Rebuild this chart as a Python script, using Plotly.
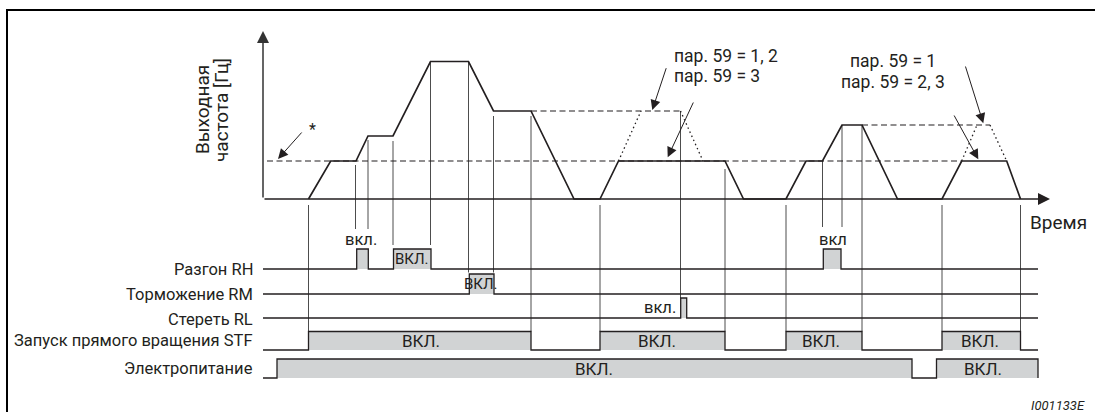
import plotly.graph_objects as go

# ---------------- data (time units from axis origin, frequency units) -------------
curve_t = [45.5, 67.7, 93, 105, 130, 167.5, 205.5, 230.5, 268, 311, 337, 355.5, 462, 480.5,
           523, 543, 559.5, 579, 599, 634.5, 679, 698.7, 743.7, 757.5]
curve_f = [0, 38, 38, 63, 63, 137.5, 137.5, 88, 88, 0, 0, 38, 38, 0,
           0, 38, 38, 74, 74, 0, 0, 38, 38, 0]

# dashed set-point levels: start, end, level
dash_start = [4, 268, 599]
dash_end = [698.7, 417.5, 727]
dash_level = [38, 88, 74]

# dotted alternative ramps (pr. 59 variants)
dot_t = [[355.5, 378], [417.5, 440], [698.7, 714], [727, 743.7]]
dot_f = [[38, 88], [88, 38], [38, 74], [74, 38]]

# event markers (vertical lines)
marker_t = [45.5, 92.5, 105, 130, 167.5, 205.5, 230.5, 268, 337, 417.5, 462, 523, 559.5, 579, 599, 679, 757.5]
marker_top = [-6, 34, 59, 58, 136, 137.5, 83, 83, -6, 88, 30, -6, 38, 74, 74, -6, -6]
marker_end = [-132.5, -30, -30, -46, -46, -73.5, -73.5, -132.5, -132.5, -99, -132.5, -132.5,
              -28, -28, -132.5, -132.5, -132.5]

# signal rows
row_names = ["Разгон RH", "Торможение RM", "Стереть RL", "Запуск прямого вращения STF", "Электропитание"]
row_pulses = [
    [(93.7, 105.3), (130.5, 168), (560.3, 578)],
    [(206.3, 231)],
    [(417.7, 423.7)],
    [(45.5, 268), (337, 462), (523, 599), (679, 757.5)],
    [(14, 649), (673.5, 775)],
]
row_low = [-70, -95, -119, -151, -179]
row_high = [-50, -75, -99, -132.5, -160]
row_label_f = [-70, -95, -120, -141.5, -169.5]
row_end = 775

pulse_text = ["вкл.", "ВКЛ.", "ВКЛ.", "вкл.", "вкл", "ВКЛ.", "ВКЛ.", "ВКЛ.", "ВКЛ.", "ВКЛ.", "ВКЛ."]
pulse_text_t = [98, 149, 218, 397, 570, 157.5, 394, 558, 717, 331, 720]
pulse_text_f = [-40, -60, -85, -108, -40, -142, -142, -142, -142, -170, -170]
pulse_text_size = [16.5, 15, 15, 16.5, 16.5, 17, 17, 17, 17, 17, 17]

param_text = ["пар. 59 = 1, 2", "пар. 59 = 3", "пар. 59 = 1", "пар. 59 = 2, 3"]
param_t = [409, 409, 630, 630]
param_f = [143.5, 123, 138, 117.5]
param_anchor = ["left", "left", "center", "center"]
param_arrow_tail = [(403.7, 132.3), (431, 98), (702, 134), (690.3, 85)]
param_arrow_head = [(389.3, 89), (404.7, 41.7), (720.3, 75.7), (715.3, 39.7)]

INK = "#231f20"
GRAY = "#d1d3d4"
FONT = "Roboto"

fig = go.Figure()

# vertical event lines
vx, vy = [], []
for t, a, b in zip(marker_t, marker_top, marker_end):
    vx += [t, t, None]
    vy += [a, b, None]
fig.add_trace(go.Scatter(x=vx, y=vy, mode="lines", line=dict(color="#4d4d4d", width=1), hoverinfo="skip"))

# dashed levels
for s, e, lv in zip(dash_start, dash_end, dash_level):
    fig.add_trace(go.Scatter(x=[s, e], y=[lv, lv], mode="lines",
                             line=dict(color=INK, width=1.2, dash="6px,3.5px"), hoverinfo="skip"))
for tt, ff in zip(dot_t, dot_f):
    fig.add_trace(go.Scatter(x=tt, y=ff, mode="lines",
                             line=dict(color=INK, width=1.3, dash="1.5px,3px"), hoverinfo="skip"))

# frequency curve
fig.add_trace(go.Scatter(x=curve_t, y=curve_f, mode="lines", line=dict(color=INK, width=1.7), hoverinfo="skip"))

# signal rows
for pulses, lo, hi in zip(row_pulses, row_low, row_high):
    xs, ys = [0], [lo]
    for on, off in pulses:
        xs += [on, on, off, off]
        ys += [lo, hi, hi, lo]
    xs.append(row_end)
    ys.append(lo)
    fig.add_trace(go.Scatter(x=[0, row_end], y=[lo, lo], mode="lines",
                             line=dict(color="rgba(0,0,0,0)", width=0), hoverinfo="skip"))
    fig.add_trace(go.Scatter(x=xs, y=ys, mode="lines", fill="tonexty", fillcolor=GRAY,
                             line=dict(color=INK, width=1.3), hoverinfo="skip"))

annotations = []
# row labels
for name, lf in zip(row_names, row_label_f):
    annotations.append(dict(x=-8, y=lf, text=name, showarrow=False, xanchor="right", yanchor="middle",
                            font=dict(family=FONT, size=16.5, color=INK)))
# pulse labels
for txt, t, f, sz in zip(pulse_text, pulse_text_t, pulse_text_f, pulse_text_size):
    annotations.append(dict(x=t, y=f, text=txt, showarrow=False, xanchor="center", yanchor="middle",
                            font=dict(family=FONT, size=sz, color=INK)))
# param labels
for txt, t, f, anc in zip(param_text, param_t, param_f, param_anchor):
    annotations.append(dict(x=t, y=f, text=txt, showarrow=False, xanchor=anc, yanchor="middle",
                            font=dict(family=FONT, size=17.5, color=INK)))
for (ax_, ay_), (hx, hy) in zip(param_arrow_tail, param_arrow_head):
    annotations.append(dict(x=hx, y=hy, ax=ax_, ay=ay_, axref="x", ayref="y", text="",
                            showarrow=True, arrowhead=2, arrowsize=2, arrowwidth=1, arrowcolor=INK, standoff=0))
# asterisk arrow
annotations.append(dict(x=15, y=40, ax=40, ay=68, axref="x", ayref="y", text="", showarrow=True,
                        arrowhead=2, arrowsize=2, arrowwidth=1, arrowcolor=INK, standoff=0))
annotations.append(dict(x=49, y=70, text="*", showarrow=False, font=dict(family=FONT, size=16, color=INK)))

# axes arrows
annotations.append(dict(x=0, y=168, ax=0, ay=0, axref="x", ayref="y", text="", showarrow=True,
                        arrowhead=2, arrowsize=1.6, arrowwidth=1.5, arrowcolor="#333", standoff=0))
annotations.append(dict(x=787, y=0, ax=0, ay=0, axref="x", ayref="y", text="", showarrow=True,
                        arrowhead=2, arrowsize=1.6, arrowwidth=1.5, arrowcolor=INK, standoff=0))
annotations.append(dict(x=-61, y=89, text="Выходная", textangle=-90, showarrow=False,
                        font=dict(family=FONT, size=19, color=INK)))
annotations.append(dict(x=-42, y=89, text="частота [Гц]", textangle=-90, showarrow=False,
                        font=dict(family=FONT, size=19, color=INK)))
annotations.append(dict(x=795, y=-23, text="Время", showarrow=False,
                        font=dict(family=FONT, size=19, color=INK)))
annotations.append(dict(x=1087 / 1095, y=1 - 405 / 412, xref="paper", yref="paper", xanchor="right",
                        yanchor="middle", text="<i>I001133E</i>", showarrow=False,
                        font=dict(family=FONT, size=13, color=INK)))

shapes = [
    dict(type="line", xref="paper", yref="paper", x0=6 / 1095, x1=1, y0=1 - 10 / 412, y1=1 - 10 / 412,
         line=dict(color="black", width=2)),
    dict(type="line", xref="paper", yref="paper", x0=7 / 1095, x1=7 / 1095, y0=0, y1=1 - 10 / 412,
         line=dict(color="black", width=2)),
]

fig.update_layout(
    width=1095, height=412, margin=dict(l=0, r=0, t=0, b=0),
    paper_bgcolor="white", plot_bgcolor="white", showlegend=False,
    xaxis=dict(range=[-263, 832], visible=False, fixedrange=True),
    yaxis=dict(range=[-213, 199], visible=False, fixedrange=True),
    annotations=annotations, shapes=shapes,
)
fig.write_html("out.html", config={"displayModeBar": False},
               post_script="document.body.style.margin='0';document.body.style.overflow='hidden';")
